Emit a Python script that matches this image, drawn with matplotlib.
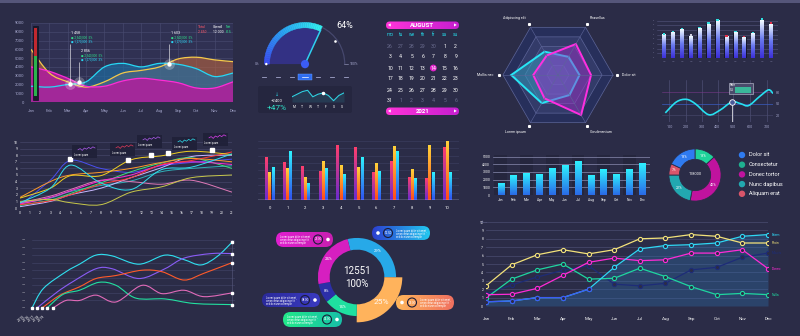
import numpy as np
import matplotlib
matplotlib.use('Agg')
import matplotlib.pyplot as plt
from matplotlib.path import Path
from matplotlib.patches import PathPatch, Rectangle, Wedge, Circle, FancyBboxPatch, Polygon
from matplotlib.colors import LinearSegmentedColormap

plt.rcParams['font.family'] = ['Roboto', 'DejaVu Sans']

# ---------------- data ----------------
months = ['Jan', 'Feb', 'Mar', 'Apr', 'May', 'Jun', 'Jul', 'Aug', 'Sep', 'Oct', 'Nov', 'Dec']

# top-left area chart
area_gold = [6000, 3300, 2300, 1700, 2300, 3300, 3600, 4000, 4900, 5100, 4800, 4600]
area_cyan = [1800, 1700, 2000, 2300, 4000, 4400, 4000, 4400, 4300, 3800, 2900, 3300]
area_pink = [4000, 3500, 2700, 1800, 1800, 2400, 2700, 2500, 2200, 1600, 1600, 2300]
peak_x = [2.12, 2.6, 7.5]
peak_y = [2000, 2300, 4300]
peak_top = [6600, 4600, 6600]
level_green = 5200
level_red = 8400

# gauge + mini panel
gauge_pct = 64
spark_vals = [3, 5, 7, 8, 3, 5, 6, 4, 0, 4, 6]
spark_days = ['M', 'T', 'W', 'T', 'F', 'S', 'S']

# calendar
cal_month = 'AUGUST'
cal_year = '2021'
week_days = ['mo', 'tu', 'we', 'th', 'fr', 'sa', 'su']
cal_days = [26, 27, 28, 29, 30, 1, 2,
            3, 4, 5, 6, 7, 8, 9,
            10, 11, 12, 13, 14, 15, 16,
            17, 18, 19, 20, 21, 22, 23,
            24, 25, 26, 27, 28, 29, 30,
            31, 1, 2, 3, 4, 5, 6]
cal_pick = 14

# radar
radar_labels = ['Dolor sit', 'Phasellus', 'Adipiscing elit', 'Mollis nec', 'Lorem ipsum', 'Condimentum']
radar_cyan = [0.39, 0.38, 0.49, 0.85, 0.59, 0.42]
radar_magenta = [0.60, 0.65, 0.41, 0.45, 0.49, 0.84]

# glowing bars top right
glow_vals = [59, 65, 72, 56, 76, 87, 95, 54, 65, 53, 63, 97, 87]
glow_caps = ['c', 'c', 'c', 'w', 'c', 'c', 'c', 'r', 'c', 'r', 'c', 'c', 'r']

# wave line
wave_x = [3, 13, 22, 30, 42, 52, 63, 71, 78, 88, 96, 100]
wave_y = [2.5, 5.5, 6.2, 5.0, 2.0, 3.2, 5.5, 5.0, 4.5, 7.0, 8.8, 7.8]
wave_ticks = ['100', '200', '300', '400', '500', '600', '700']

# many-line chart
sp_x = [0, 3, 5, 8, 11, 14, 17, 21]
sp_cyan = [0.8, 3.0, 6.5, 3.8, 2.8, 5.8, 6.2, 8.2]
sp_gold = [1.5, 3.0, 4.9, 4.9, 7.3, 7.9, 8.6, 8.1]
sp_khaki = [1.0, 1.3, 0.8, 0.5, 2.4, 3.2, 4.6, 5.0]
sp_red = [0.5, 1.1, 2.0, 3.6, 4.6, 6.6, 7.2, 8.5]
sp_magenta = [0.6, 1.6, 2.6, 4.1, 5.0, 6.5, 7.0, 6.6]
sp_pink = [0.8, 1.8, 2.8, 4.2, 4.0, 3.6, 4.2, 2.4]
sp_blue = [0.4, 4.2, 7.2, 6.0, 5.4, 6.4, 6.9, 7.4]
sp_orange = [1.6, 4.0, 5.0, 5.4, 6.0, 6.9, 7.5, 7.0]
sp_green = [0.4, 1.2, 2.2, 3.8, 5.5, 6.8, 7.6, 6.0]
sp_lilac = [0.2, 1.0, 2.0, 3.0, 4.6, 6.1, 7.8, 8.0]
sp_teal = [0.7, 1.5, 2.5, 3.4, 4.1, 5.5, 6.0, 6.4]
sp_mark_x = [5, 10.7, 13, 14.7, 19]
sp_mark_y = [7.4, 7.3, 8.1, 8.4, 8.8]
tip_wave = [2, 4, 1, 5, 3, 6, 4, 7, 5]

# grouped bars
grp_red = [114, 100, 90, 77, 147, 142, 74, 104, 60, 57, 141]
grp_yellow = [75, 84, 60, 104, 93, 87, 99, 145, 81, 146, 159]
grp_cyan = [87, 132, 45, 85, 69, 115, 77, 132, 57, 75, 75]

# monthly bars
month_bars = [1470, 2500, 2770, 2600, 3450, 3800, 4300, 2500, 3300, 2600, 3300, 4150]

# small donut
sd_vals = [13, 40, 22, 7, 18]
sd_cols = ['#1fd39a', '#c0139e', '#22a8b0', '#d9556a', '#2f7bf0']
sd_total = '118000'
sd_legend = ['Dolor sit', 'Consectetur', 'Donec tortor', 'Nunc dapibus', 'Aliquam erat']
sd_legend_cols = ['#2f7bf0', '#1fb090', '#c0139e', '#22a8b0', '#d9556a']

# bottom-left lines
bl_cyan_x = [0, 1.15, 3.4, 4.75, 6.4, 8, 10.7, 13.3, 15.2, 16.9, 18.5, 20]
bl_cyan_y = [0, 2.6, 4.8, 5.8, 7.0, 6.9, 5.8, 7.0, 6.4, 5.7, 6.8, 8.7]
bl_violet_x = [0.5, 2.5, 4.1, 6.4, 8, 10.7, 13.3, 15.2, 17.9, 20]
bl_violet_y = [0, 2.1, 3.5, 5.2, 5.2, 3.9, 5.2, 6.6, 7.2, 7.2]
bl_orange_x = [1, 2.8, 4.75, 6.4, 8.4, 11, 13, 15.2, 17.2, 20]
bl_orange_y = [0, 1.7, 2.8, 3.9, 4.3, 5.0, 4.8, 3.7, 4.6, 6.0]
bl_green_x = [1.5, 3.1, 4.75, 6.7, 8.4, 10.4, 13.3, 16.2, 20]
bl_green_y = [0, 1.8, 2.35, 3.4, 3.0, 1.3, 1.2, 0.6, 0.45]
bl_pink_x = [2.1, 3.4, 4.75, 6.4, 8.4, 11, 13, 15.2, 17.2, 20]
bl_pink_y = [0, 1.0, 1.0, 1.7, 0.8, 3.0, 1.9, 2.35, 1.5, 2.0]
bl_years = ['2015', '2016', '2017', '2018', '2019']

# big donut
bd_vals = [29, 25, 14, 8, 24]
bd_cols = ['#27a9e8', '#ffb35c', '#1fe0a0', '#2c2fa8', '#d61fc0']
bd_total = '12551'

# bottom-right marker lines
br_yellow = [2.4, 4.9, 6.1, 6.7, 6.2, 6.7, 8.0, 8.1, 8.5, 8.3, 7.5, 7.5]
br_cyan = [0.5, 0.6, 1.0, 1.0, 2.0, 4.6, 6.8, 7.2, 7.3, 7.5, 8.3, 8.5]
br_magenta = [1.35, 1.4, 2.1, 3.65, 5.2, 5.7, 5.4, 5.5, 6.3, 6.3, 6.7, 4.45]
br_green = [0.95, 3.2, 4.3, 5.0, 3.2, 3.3, 4.5, 3.5, 2.3, 1.35, 1.5, 1.35]
br_navy = [1.4, 2.5, 3.45, 4.25, 4.8, 2.6, 2.4, 2.7, 4.3, 4.6, 5.8, 6.3]
br_names = ['Mauris', 'Nulla', 'Donec', 'Etiam', 'Proin']

# ---------------- helpers ----------------
BG = '#2b2c47'
W, H = 800, 336
TXT = '#a4a6cc'

fig = plt.figure(figsize=(8, 3.36), dpi=100)
fig.patch.set_facecolor(BG)


def panel(x, y, w, h, fc='none'):
    ax = fig.add_axes([x / W, 1 - (y + h) / H, w / W, h / H])
    ax.set_facecolor(fc)
    for s in ax.spines.values():
        s.set_visible(False)
    ax.tick_params(length=0, labelsize=3, colors=TXT, pad=2)
    return ax


def smooth_path(xs, ys):
    p = np.column_stack([np.asarray(xs, float), np.asarray(ys, float)])
    n = len(p)
    verts = [p[0]]
    codes = [Path.MOVETO]
    for i in range(n - 1):
        p0 = p[max(i - 1, 0)]
        p1 = p[i]
        p2 = p[i + 1]
        p3 = p[min(i + 2, n - 1)]
        verts += [p1 + (p2 - p0) / 6, p2 - (p3 - p1) / 6, p2]
        codes += [Path.CURVE4] * 3
    return verts, codes


def smooth_line(ax, xs, ys, **kw):
    v, c = smooth_path(xs, ys)
    ax.add_patch(PathPatch(Path(v, c), fill=False, **kw))


def smooth_fill(ax, xs, ys, base=0, **kw):
    v, c = smooth_path(xs, ys)
    v = v + [(xs[-1], base), (xs[0], base), (xs[0], ys[0])]
    c = c + [Path.LINETO, Path.LINETO, Path.CLOSEPOLY]
    ax.add_patch(PathPatch(Path(v, c), lw=0, **kw))


def grad_bar(ax, x, w, h, cmap, z=3):
    g = np.linspace(0, 1, 64).reshape(-1, 1)
    ax.imshow(g, extent=[x - w / 2, x + w / 2, 0, h], origin='lower',
              aspect='auto', cmap=cmap, zorder=z, interpolation='bilinear')


def cmap2(a, b, c=None):
    cols = [a, b] if c is None else [a, b, c]
    return LinearSegmentedColormap.from_list('g', cols)


def pill(ax, x, y, w, h, c1, c2):
    p = FancyBboxPatch((x, y), w, h, boxstyle='round,pad=0,rounding_size=%f' % (h / 2),
                       fc='none', ec='none')
    ax.add_patch(p)
    g = np.linspace(0, 1, 64).reshape(1, -1)
    im = ax.imshow(g, extent=[x, x + w, y + h, y], aspect='auto', cmap=cmap2(c1, c2), zorder=3)
    im.set_clip_path(p)
    return p


# background overlay
bg = fig.add_axes([0, 0, 1, 1])
bg.set_xlim(0, W)
bg.set_ylim(H, 0)
bg.axis('off')
bg.set_autoscale_on(False)
bg.add_patch(Rectangle((0, 0), W, 2.5, fc='#55567a', ec='none'))

# ---------------- top-left area chart ----------------
ax1 = panel(31, 23, 202, 79, fc='#303153')
x12 = np.arange(12)
smooth_fill(ax1, x12, area_gold, fc='#b8643e', alpha=0.6, zorder=2)
smooth_fill(ax1, x12, area_cyan, fc='#1d6fa6', alpha=0.65, zorder=3)
smooth_fill(ax1, x12, area_pink, fc='#b0209c', alpha=0.88, zorder=4)
smooth_line(ax1, x12, area_gold, ec='#f4c94a', lw=0.9, zorder=5)
smooth_line(ax1, x12, area_cyan, ec='#27d8f5', lw=0.9, zorder=5)
smooth_line(ax1, x12, area_pink, ec='#ff2bd6', lw=0.9, zorder=5)
ax1.add_patch(Rectangle((0.12, 200), 0.28, 8500, fc='#1b1b2c', ec='#111122', lw=0.5, zorder=6))
ax1.add_patch(Rectangle((0.17, 700), 0.18, level_green - 700, fc='#2bb24c', zorder=7))
ax1.add_patch(Rectangle((0.17, level_green), 0.18, level_red - level_green, fc='#c0282f', zorder=7))
ax1.vlines(peak_x, peak_y, peak_top, colors='white', lw=0.4, zorder=8)
ax1.scatter(peak_x, peak_y, s=60, c='white', alpha=0.25, lw=0, zorder=8)
ax1.scatter(peak_x, peak_y, s=10, c='white', lw=0, zorder=9)
for px, py, t in [(2.2, 7800, '1 458'), (2.7, 5700, '2 856'), (7.6, 7800, '1 603')]:
    ax1.text(px, py, t, color='white', fontsize=2.6, zorder=9)
    ax1.text(px, py - 500, '\u25cf 2,540,000  5%', color='#2fe08a', fontsize=2.2, zorder=9)
    ax1.text(px, py - 950, '\u25cf 1,270,000  3%', color='#27d8f5', fontsize=2.2, zorder=9)
for lx, t1, t2, c in [(9.1, 'Total', '2 450', '#ff5a6a'), (9.9, 'Overall', '12 000', 'white'),
                      (10.6, 'Net', '815', '#2fe08a')]:
    ax1.text(lx, 8400, t1, color=c, fontsize=2.4, zorder=9)
    ax1.text(lx, 7900, t2, color=c, fontsize=2.4, zorder=9)
ax1.set_xlim(0, 11)
ax1.set_ylim(0, 9000)
ax1.set_xticks(x12, months)
ax1.set_yticks(range(0, 9001, 1000))
ax1.tick_params(pad=5)
ax1.grid(color='#4a4c72', lw=0.4)
ax1.set_axisbelow(True)

# ---------------- gauge ----------------
g = panel(250, 12, 110, 75)
g.set_xlim(-1.35, 1.35)
g.set_ylim(-0.55, 1.25)
g.set_xticks([])
g.set_yticks([])
end = 180 - 180 * gauge_pct / 100
g.add_patch(Wedge((0, 0), 0.87, end, 180, fc='#36349a', alpha=0.75, ec='none'))
g.add_patch(Wedge((0, 0), 0.99, 0, end, width=0.03, fc='#46486e', ec='none'))
cm_arc = cmap2('#3b4cf0', '#2aa8f5', '#33f0f0')
edges = np.linspace(180, end, 41)
for i in range(40):
    col = cm_arc(i / 39)
    g.add_patch(Wedge((0, 0), 1.0, edges[i + 1], edges[i], width=0.13, fc=col, ec=col, lw=0.3))
a = np.deg2rad(end)
g.plot([0, 0.9 * np.cos(a)], [0, 0.9 * np.sin(a)], color='#2fd0f0', lw=1.1)
g.add_patch(Circle((0, 0), 0.1, fc='#3b5cf5', ec='none', zorder=5))
g.add_patch(Circle((-0.95, 0), 0.03, fc='white', zorder=5))
g.text(0.78, 0.93, '%d%%' % gauge_pct, color='white', fontsize=6.5, ha='left', va='center')
g.text(-1.13, 0, '0%', color=TXT, fontsize=2.5, ha='right', va='center')
g.text(1.1, 0, '100%', color=TXT, fontsize=2.5, ha='left', va='center')
g.plot([0.95, 1.05], [0, 0], color=TXT, lw=0.4)
g.plot([0.74], [0.55], 's', ms=0.8, color='white')
for xv in [-1.0, -0.66, -0.33, 0.33, 0.66, 1.0]:
    g.plot([xv - 0.05, xv + 0.05], [-0.32, -0.32], color=TXT, lw=0.6)
g.add_patch(Rectangle((-0.18, -0.39), 0.36, 0.15, fc='#2f6df0', ec='#6aa0ff', lw=0.3))
g.plot([-0.08, 0.08], [-0.315, -0.315], color='white', lw=0.5)

# mini panel
bg.add_patch(FancyBboxPatch((258, 86), 94, 27, boxstyle='round,pad=0,rounding_size=2',
                            fc='#25263f', ec='none'))
sp = panel(292, 89, 52, 13)
sp.plot(range(len(spark_vals)), spark_vals, color='#2fd0e0', lw=0.8)
sp.fill_between(range(len(spark_vals)), spark_vals, -1, color='#2fd0e0', alpha=0.12, lw=0)
sp.plot([6], [spark_vals[6]], 'o', ms=1.5, color='white')
sp.set_xlim(0, len(spark_vals) - 1)
sp.set_ylim(-1, 9)
sp.set_xticks([])
sp.set_yticks([])

# ---------------- radar ----------------
rad = panel(498, 15, 120, 120)
rad.set_xlim(-1.09, 1.09)
rad.set_ylim(-1.09, 1.09)
rad.set_xticks([])
rad.set_yticks([])
ang = np.deg2rad([0, 60, 120, 180, 240, 300])
for r, col in zip([1.0, 0.8, 0.6, 0.4, 0.2], ['#272f5b', '#333b69', '#3a4172', '#3f4577', '#454b7c']):
    rad.add_patch(Polygon(np.column_stack([r * np.cos(ang), r * np.sin(ang)]), closed=True,
                          fc=col, ec='#5d6599', lw=0.5))
for a in ang:
    rad.plot([0, np.cos(a)], [0, np.sin(a)], color='#5d6599', lw=0.4)
for vals, fc, ec in [(radar_cyan, '#2fa8c8', '#27e6f5'), (radar_magenta, '#a02cc8', '#ff2ee0')]:
    v = np.asarray(vals)
    pts = np.column_stack([v * np.cos(ang), v * np.sin(ang)])
    rad.add_patch(Polygon(pts, closed=True, fc=fc, alpha=0.45, ec='none'))
    rad.add_patch(Polygon(pts, closed=True, fill=False, ec=ec, lw=1.4))
for a, lab in zip(ang, radar_labels):
    cx, cy = 1.07 * np.cos(a), 1.07 * np.sin(a)
    rad.plot([cx], [cy], 's', ms=1.2, color='white', clip_on=False)
    c = np.cos(a)
    if abs(c) > 0.9:
        rad.text(cx + 0.1 * np.sign(c), cy, lab, color='white', fontsize=2.6,
                 ha='left' if c > 0 else 'right', va='center', clip_on=False)
    else:
        rad.text(cx + 0.05 * np.sign(c), cy + 0.1 * np.sign(np.sin(a)), lab, color='white',
                 fontsize=2.6, ha='left' if c > 0 else 'right', va='center', clip_on=False)

# ---------------- glowing bars ----------------
gb = panel(657, 17, 121, 41)
cm_glow = cmap2('#3c2fd8', '#6a7af0', '#f2fbff')
cap_col = {'c': '#2fe0e0', 'r': '#e0304a', 'w': '#d0d0e0'}
for i, (v, cp) in enumerate(zip(glow_vals, glow_caps)):
    gb.add_patch(Rectangle((i - 0.26, 0), 0.52, v, fc='#15152a', ec='none', zorder=2))
    grad_bar(gb, i, 0.4, v, cm_glow)
    gb.add_patch(Rectangle((i - 0.14, v + 1), 0.28, 3.5, fc=cap_col[cp], ec='none', zorder=4))
gb.set_xlim(-0.8, 12.8)
gb.set_ylim(0, 105)
gb.set_yticks(range(0, 101, 12))
gb.set_yticklabels(['-'] * 9)
gb.set_xticks(range(13))
gb.set_xticklabels(['\u2013'] * 13)
gb.grid(axis='y', color='#55577d', lw=0.4)
gb.set_axisbelow(True)

# ---------------- wave chart ----------------
wv = panel(662, 80, 111, 42)
smooth_line(wv, wave_x, wave_y, ec='#27e0f0', lw=1.2, zorder=4)
wv.axhline(5, color='#3a5cc0', lw=0.5)
wv.axhline(8.2, color='#7a3a8a', lw=0.4)
wv.axhline(1.8, color='#4a4c70', lw=0.4)
wv.vlines([63], 0, 5.5, colors='white', lw=0.5, zorder=5)
wv.plot([63], [5.5], 'o', ms=4, mfc='#4a5a9a', mec='white', mew=0.6, zorder=6)
wv.add_patch(Rectangle((60, 7.6), 22, 3.2, fc='#4a4c6c', ec='#c8cadc', lw=0.4, zorder=6))
wv.add_patch(Rectangle((66, 8.0), 14, 1.5, fc='#3ab89a', ec='none', zorder=7))
wv.text(61, 10.2, 'Rate', color='white', fontsize=2.2, va='center', zorder=7)
wv.text(61, 8.8, '5.5', color='white', fontsize=2.2, va='center', zorder=7)
wv.set_xlim(0, 100)
wv.set_ylim(0, 11.5)
wv.set_xticks([6.7, 22, 36, 50, 64, 79, 95], wave_ticks)
wv.set_yticks([1.8, 5, 8.2], ['20', '50', '80'])
wv.yaxis.tick_right()
wv.grid(axis='x', color='#55577d', lw=0.4)
wv.tick_params(labelsize=2.6)
wv.set_axisbelow(True)

# ---------------- many-line chart ----------------
ml = panel(20, 142, 212, 66)
for ys, c in [(sp_blue, '#4a4ff0'), (sp_teal, '#2fb0b8'), (sp_lilac, '#c8b8ff'), (sp_green, '#3fe07a'),
              (sp_orange, '#ff9a2a'), (sp_pink, '#e07ab8'), (sp_magenta, '#ff2bd6'), (sp_red, '#ff3a3a'),
              (sp_khaki, '#c8c84a'), (sp_gold, '#f0d020'), (sp_cyan, '#2fe0f0')]:
    smooth_line(ml, sp_x, ys, ec=c, lw=0.7, zorder=3)
ml.plot(sp_mark_x, sp_mark_y, 's', ms=2.2, color='white', zorder=5)
ml.set_xlim(0, 21)
ml.set_ylim(0, 10)
ml.set_xticks(range(22))
ml.set_yticks(range(0, 11))
ml.tick_params(labelsize=2.4, colors='white')
ml.grid(axis='y', color='#4a4c70', lw=0.4)
ml.set_axisbelow(True)

# ---------------- grouped bars ----------------
gr = panel(258, 137, 201, 63)
cm_r = cmap2('#6a2ad0', '#ff3f6c')
cm_y = cmap2('#ff4a1a', '#ffd23a')
cm_c = cmap2('#3050f0', '#2ef2ff')
for i in range(len(grp_red)):
    grad_bar(gr, i - 0.18, 0.13, grp_red[i], cm_r)
    grad_bar(gr, i, 0.13, grp_yellow[i], cm_y)
    grad_bar(gr, i + 0.18, 0.13, grp_cyan[i], cm_c)
gr.axhline(0, color='#d8daf0', lw=1.0, zorder=5)
gr.set_xlim(-0.65, 10.65)
gr.set_ylim(0, 170)
gr.set_xticks(range(11))
gr.set_yticks(range(20, 171, 20))
gr.set_yticklabels([])
gr.tick_params(labelsize=3, colors='white', pad=4)
gr.grid(axis='y', color='#3e4063', lw=0.4)
gr.set_axisbelow(True)

# ---------------- monthly bars ----------------
mb = panel(493, 155, 157, 40)
for i in range(0, 12, 2):
    mb.axvspan(i - 0.5, i + 0.5, color='#25263e', lw=0, zorder=0)
cm_m = cmap2('#2a6ae8', '#2ef0ff')
for i, v in enumerate(month_bars):
    grad_bar(mb, i, 0.5, v, cm_m)
mb.set_xlim(-0.6, 11.6)
mb.set_ylim(0, 5200)
mb.set_xticks(range(12), months)
mb.set_yticks(range(0, 5001, 1000))
mb.tick_params(labelsize=2.4, colors='white')
mb.grid(axis='y', color='#8a8cb0', lw=0.5)
mb.set_axisbelow(True)

# ---------------- small donut ----------------
sd = panel(665, 145, 60, 60)
wedges, _ = sd.pie(sd_vals, colors=sd_cols, startangle=90, counterclock=False, radius=1,
                   wedgeprops=dict(width=0.4, edgecolor=BG, linewidth=0.6))
for wdg, v in zip(wedges, sd_vals):
    t = np.deg2rad((wdg.theta1 + wdg.theta2) / 2)
    sd.text(0.8 * np.cos(t), 0.8 * np.sin(t), '%d%%' % v, color='white', fontsize=2.6,
            ha='center', va='center')
sd.text(0, 0.03, sd_total, color='white', fontsize=2.8, ha='center', va='center')
sd.set_xlim(-1.15, 1.15)
sd.set_ylim(-1.15, 1.15)

# ---------------- bottom-left lines ----------------
bl = panel(32, 240, 203, 68)
bl_sets = [(bl_cyan_x, bl_cyan_y, '#2fe0f0'), (bl_violet_x, bl_violet_y, '#8a5cf5'),
           (bl_orange_x, bl_orange_y, '#ff5a2a'), (bl_green_x, bl_green_y, '#22e0a0'),
           (bl_pink_x, bl_pink_y, '#e06ab8')]
for xs, ys, c in bl_sets:
    smooth_line(bl, xs, ys, ec=c, lw=0.8, zorder=3)
    bl.plot([xs[0], xs[-1]], [ys[0], ys[-1]], 's', ms=1.6, color='white', zorder=5, clip_on=False)
bl.axvline(20, color='#5a5c80', lw=0.4)
bl.set_xlim(0, 20.3)
bl.set_ylim(0, 9)
bl.set_xticks([])
bl.set_yticks(range(0, 10))
bl.set_yticklabels(['\u2014'] * 10)
bl.tick_params(labelsize=3, colors='white', pad=5)
bl.grid(axis='y', color='#44466a', lw=0.4)
bl.set_axisbelow(True)

# ---------------- bottom-right marker lines ----------------
br = panel(486, 222, 282, 84)
br.fill_between(x12, br_cyan, 0, color='#2c6fae', alpha=0.35, lw=0, zorder=1)
br_sets = [(br_navy, '#1e2c78'), (br_green, '#1fd6a0'), (br_magenta, '#ff2bd6'),
           (br_cyan, '#2fd8f5'), (br_yellow, '#f3e27a')]
for (ys, c), nm in zip(br_sets, br_names):
    br.plot(x12, ys, color=c, lw=0.9, marker='o', ms=3, mfc='#2b2c47', mec=c, mew=0.8, zorder=4)
    br.text(11.15, ys[-1], nm, color=c, fontsize=2.4, va='center', clip_on=False)
br.plot(x12[:5], br_cyan[:5], color='#3c5cf5', lw=0.9, marker='o', ms=3, mfc='#2b2c47',
        mec='#3c5cf5', mew=0.8, zorder=5)
br.set_xlim(0, 11)
br.set_ylim(0, 10)
br.set_xticks(x12, months)
br.set_yticks(range(0, 11))
br.tick_params(labelsize=3.2, colors='white', pad=8)
br.tick_params(axis='y', labelsize=2.4, pad=2)
br.grid(axis='y', color='#4a4c70', lw=0.5)
br.set_axisbelow(True)

# ---------------- big donut ----------------
bd = panel(307, 227, 100, 100)
wedges, _ = bd.pie(bd_vals, colors=bd_cols, startangle=104, counterclock=False, radius=1,
                   wedgeprops=dict(width=0.3, edgecolor='none'))
wedges[1].set_radius(1.16)
wedges[1].set_width(0.46)
for k, (wdg, v) in enumerate(zip(wedges, bd_vals)):
    t = np.deg2rad((wdg.theta1 + wdg.theta2) / 2)
    r = 0.9 if k == 1 else 0.85
    bd.text(r * np.cos(t), r * np.sin(t), '%d%%' % v, color='white',
            fontsize=6 if k == 1 else 3, ha='center', va='center', alpha=0.9 if k == 1 else 1)
bd.text(0, 0.16, bd_total, color='white', fontsize=7, ha='center', va='center')
bd.text(0, -0.17, '100%', color='white', fontsize=7, ha='center', va='center')
bd.set_xlim(-1.28, 1.28)
bd.set_ylim(-1.28, 1.28)

# ---------------- top overlay: calendar, pills, labels ----------------
top = fig.add_axes([0, 0, 1, 1])
top.set_facecolor('none')
top.set_xlim(0, W)
top.set_ylim(H, 0)
top.axis('off')
top.set_autoscale_on(False)

# calendar
pill(top, 386, 21.5, 73, 7.5, '#ff34d8', '#c61fd0')
top.text(422.5, 25.3, cal_month, color='white', fontsize=4.4, fontweight='bold', ha='center', va='center', zorder=5)
top.text(389.5, 25.3, '\u25c0', color='white', fontsize=2.6, ha='center', va='center', zorder=5)
top.text(455.5, 25.3, '\u25b6', color='white', fontsize=2.6, ha='center', va='center', zorder=5)
pill(top, 386, 107.5, 73, 7.5, '#ff34d8', '#c61fd0')
top.text(422.5, 111.3, cal_year, color='white', fontsize=4.4, fontweight='bold', ha='center', va='center', zorder=5)
top.text(389.5, 111.3, '\u25c0', color='white', fontsize=2.6, ha='center', va='center', zorder=5)
top.text(455.5, 111.3, '\u25b6', color='white', fontsize=2.6, ha='center', va='center', zorder=5)
col_x = [390, 400.8, 411.7, 422.7, 433.3, 444.7, 455.7]
row_y = [46, 57, 68, 79, 90, 101]
for cx, d in zip(col_x, week_days):
    top.text(cx, 35, d, color='#25d0e0', fontsize=3.4, ha='center', va='center')
for k, d in enumerate(cal_days):
    cx, cy = col_x[k % 7], row_y[k // 7]
    grey = k < 5 or k > 35
    if d == cal_pick and not grey:
        top.add_patch(Circle((cx, cy), 3.4, fc='#e01fc8', ec='none'))
    top.text(cx, cy, str(d), color='#6a6c8e' if grey else 'white', fontsize=3.7,
             ha='center', va='center')

# mini panel texts
top.text(277, 94, '\u2193', color='#2fd0e0', fontsize=3.5, ha='center', va='center')
top.text(277, 101, '+2400', color='white', fontsize=3, ha='center', va='center')
top.text(277, 108.5, '+47%', color='#2fe0c8', fontsize=6, ha='center', va='center')
for k, d in enumerate(spark_days):
    top.text(294 + k * 8, 107, d, color='white', fontsize=2.4, ha='center', va='center')

# tooltips over many-line chart
tips = [(72, 145, '#b05cf0'), (110, 143, '#e03a5a'), (137, 135, '#b05cf0'),
        (172, 137, '#2fe0f0'), (203, 133, '#e040f0')]
for tx, ty, c in tips:
    top.add_patch(Rectangle((tx, ty), 25, 13, fc='#1f2038', ec='none', alpha=0.9))
    top.plot(np.linspace(tx + 6, tx + 23, len(tip_wave)), ty + 6 - np.asarray(tip_wave) * 0.6,
             color=c, lw=0.5)
    top.text(tx + 1.5, ty + 10, 'Lorem ipsum', color='white', fontsize=1.8, va='center')

# bottom-left rotated ticks
for k, yl in enumerate(bl_years):
    top.text(21 + k * 5, 319, yl, color='white', fontsize=2.6, rotation=40, ha='center', va='center')

# small donut legend
for k, (lab, c) in enumerate(zip(sd_legend, sd_legend_cols)):
    yy = 155 + k * 9.7
    top.add_patch(Circle((742, yy), 3.2, fc=c, ec='none'))
    top.text(749, yy, lab, color='white', fontsize=4, va='center')

# separator line above bottom-right chart
top.plot([480, 486], [222, 222], color='#5a5c80', lw=0.5)
top.text(482, 222, '+', color='#8a8cb0', fontsize=3, ha='center', va='center')

# donut pills
pills = [(276, 232, 57, 15, '#e01fd0', '#c81fb0', 'left', '25.00'),
         (372, 226, 58, 14, '#2c3fd0', '#22c8f0', 'right', '12.50'),
         (262, 293, 58, 14, '#2a2a9a', '#3a3ac0', 'left', '08.00'),
         (283, 312, 59, 15, '#22e88a', '#18c0a8', 'left', '14.00'),
         (396, 295, 58, 15, '#ffb65a', '#f07060', 'right', '25.00')]
for x, y, w, h, c1, c2, side, val in pills:
    pill(top, x, y, w, h, c1, c2)
    cy = y + h / 2
    if side == 'left':
        tx, rx, dx = x + 4, x + w - 15, x + w - 5
    else:
        dx, rx, tx = x + 6, x + 16, x + 24
    top.add_patch(Circle((rx, cy), 4.5, fc='none', ec='#1c1d38', lw=0.8, zorder=5))
    top.text(rx, cy, val, color='white', fontsize=2.2, ha='center', va='center', zorder=6)
    top.add_patch(Circle((dx, cy), 1.8, fc='white', ec='none', zorder=5))
    top.text(tx, cy - 2.4, 'Lorem ipsum dolor sit amet,', color='white', fontsize=1.8, va='center', zorder=6)
    top.text(tx, cy + 0.6, 'consectetur adipiscing elit', color='white', fontsize=1.8, va='center', zorder=6)
    top.text(tx, cy + 3.6, 'sed do eiusmod tempor', color='white', fontsize=1.8, va='center', zorder=6)

fig.savefig('out.png', dpi=100, facecolor=fig.get_facecolor())
